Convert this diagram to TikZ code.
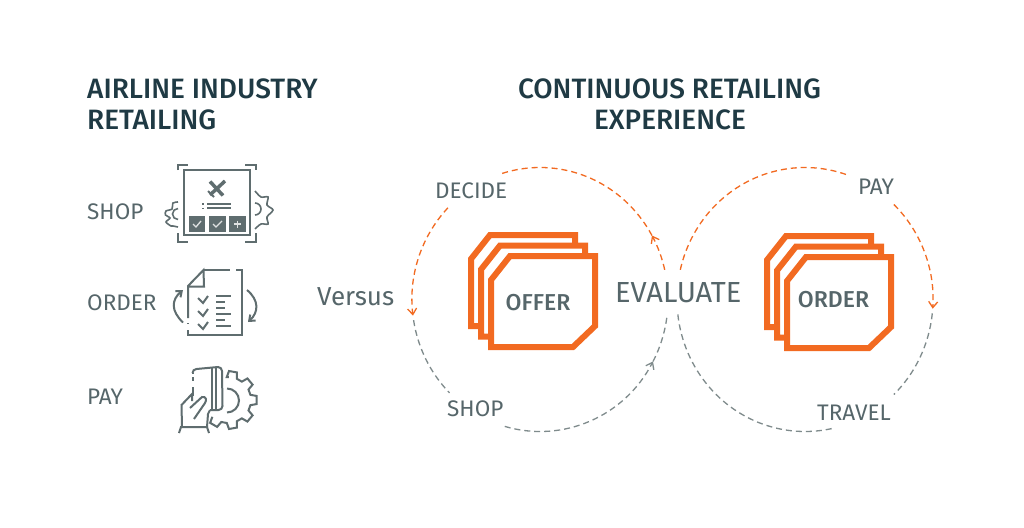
\documentclass[tikz,border=0pt]{standalone}
\usepackage{fontspec}
\setmainfont{Fira Sans}
\newfontfamily\headfont{Fira Sans Medium}
\usetikzlibrary{arrows.meta,calc}
\definecolor{ink}{HTML}{1F3A44}
\definecolor{slate}{HTML}{56666A}
\definecolor{icon}{HTML}{5F6D6F}
\definecolor{flame}{HTML}{F26A21}
\definecolor{dashgrey}{HTML}{7F8B8C}
\newcommand\ringarc[4]{\draw[#1] ($(#2)+(#3:128 and 132)$) arc[start angle=#3,end angle=#4,x radius=128,y radius=132];}
\tikzset{
  x=1pt,y=-1pt,
  heading/.style={text=ink,font=\fontsize{28}{30}\selectfont\headfont,inner sep=0pt},
  label/.style={text=slate,font=\fontsize{22.5}{24}\selectfont,inner sep=0pt},
  cardname/.style={text=slate,font=\fontsize{23}{24}\selectfont\headfont,inner sep=0pt},
  ringor/.style={flame,line width=1.3pt,dash pattern=on 6pt off 4pt},
  ringgr/.style={dashgrey,line width=1.3pt,dash pattern=on 6pt off 4pt},
  tip/.style={-{Straight Barb[length=6pt,width=9pt]}},
  ln/.style={icon,line width=2pt},
  card/.style={draw=flame,fill=white,line width=6pt,miter limit=10},
  pics/cardstack/.style={code={
    \foreach \d in {20,10,0}{
      \draw[card] ({-\d+22},{-\d*1.05+3}) -- ({-\d+107},{-\d*1.05+3}) -- ({-\d+107},{-\d*1.05+73}) -- ({-\d+85},{-\d*1.05+94}) -- ({-\d+3},{-\d*1.05+94}) -- ({-\d+3},{-\d*1.05+27}) -- cycle;
    }
  }}
}
\begin{document}
\begin{tikzpicture}
\useasboundingbox (0,0) rectangle (1024,527);
\fill[white] (0,0) rectangle (1024,527);

% headings
\node[heading,anchor=west] (h1a) at (87,89) {AIRLINE INDUSTRY};
\node[heading,anchor=west] (h1b) at (87,120) {RETAILING};
\node[heading] (h2a) at (669.5,89) {CONTINUOUS RETAILING};
\node[heading] (h2b) at (670,120) {EXPERIENCE};

% left labels
\node[label,anchor=west] (lshop) at (87,212) {SHOP};
\node[label,anchor=west] (lorder) at (87,303) {ORDER};
\node[label,anchor=west] (lpay) at (87,397) {PAY};
\node[label,anchor=west,font=\fontsize{26}{28}\selectfont] (versus) at (317,297) {Versus};

% rings
\coordinate (L) at (540,299.5);
\coordinate (R) at (805,299.5);
\ringarc{ringor,tip}{L}{-13}{-29}
\ringarc{ringor}{L}{-29}{-108}
\ringarc{ringor,tip}{L}{224}{173}
\ringarc{ringgr}{L}{171}{135}
\ringarc{ringgr,tip}{L}{106}{28}
\ringarc{ringgr}{L}{28}{7}
\ringarc{ringor}{R}{193}{290}
\ringarc{ringor,tip}{R}{314}{364}
\ringarc{ringgr}{R}{6}{46}
\ringarc{ringgr}{R}{78}{173.5}

% ring labels
\node[label,anchor=west] (decide) at (435,191) {DECIDE};
\node[label,anchor=west] (rshop) at (447,409) {SHOP};
\node[label,anchor=west] (rpay) at (858,187) {PAY};
\node[label,anchor=west] (travel) at (817,413) {TRAVEL};
\node[label,anchor=west,font=\fontsize{29}{30}\selectfont] (evaluate) at (615,293) {EVALUATE};

% card stacks
\pic at (488,253) {cardstack};
\pic at (784,254) {cardstack};
\node[cardname] (offer) at (538,303) {OFFER};
\node[cardname] (order) at (833.5,300) {ORDER};

% shop icon
\begin{scope}[ln]
\draw (184,170) rectangle (250,235);
\draw (178,170) -- (178,165) -- (188,165);
\draw (245,165) -- (256,165) -- (256,170);
\draw (178,233) -- (178,242) -- (188,242);
\draw (245,242) -- (256,242) -- (256,233);
\draw[line width=3.5pt] (210,195) -- (225,181);
\draw[line width=3.5pt] (210,181.5) -- (223,195.5);
\draw[line width=2pt] (208,191) -- (214,197);
\draw (207,203.5) -- (231,203.5);
\draw (207,208) -- (231,208);
\fill[icon] (201.5,203) rectangle (203.5,204.5);
\fill[icon] (201.5,207.5) rectangle (203.5,209);
\fill[icon] (189,216) rectangle (205,232);
\fill[icon] (209,216) rectangle (226,232);
\fill[icon] (229,216) rectangle (246,232);
\draw[white!80!icon,line width=1.3pt] (193,224) -- (196,227) -- (201,221);
\draw[white!80!icon,line width=1.3pt] (213,224) -- (216,227) -- (222,221);
\draw[white!80!icon,line width=1.3pt] (237.5,220.5) -- (237.5,227.5) (234,224) -- (241,224);
\draw[smooth,line width=1.6pt] plot coordinates {(178,202) (173,203) (172,209) (166,211) (165.5,215) (170,218) (166,222) (171,226) (173,226) (178,227)};
\draw[line width=1.6pt] (178,208.5) arc[start angle=-90,end angle=-270,radius=5.5];
\draw[smooth,line width=1.6pt] plot coordinates {(255,191) (261,197) (268,197) (267,205) (273,210) (267,217) (268,224) (261,224) (255,229)};
\draw[line width=1.6pt] (255,203) arc[start angle=-90,end angle=90,radius=6];

% order icon
\draw (203,270) -- (230,270);
\draw (236,270) -- (241.5,270) -- (241.5,335) -- (188,335) -- (188,330);
\draw (188,323) -- (188,323.7);
\draw (188,318) -- (188,286) -- (203.5,270) -- (204,286.5) -- (188,286.5);
\draw (198,298) -- (203,303) -- (208,296);
\draw (198,311) -- (203,316) -- (208,309);
\draw (198,324) -- (203,329) -- (208,322);
\draw (216,296) -- (231,296);
\draw (216,301.5) -- (225,301.5);
\draw (216,308) -- (225,308);
\draw (216,313.5) -- (231,313.5);
\draw (216,320) -- (225,320);
\draw (216,326) -- (231,326);
\draw[-{Straight Barb[length=5pt,width=8pt]}] (183,322.5) .. controls (171,311) and (171,300) .. (183,290);
\draw[-{Straight Barb[length=5pt,width=8pt]}] (247,290) .. controls (259,300) and (259,312) .. (248,322);

% pay icon
\draw (192.5,373) -- (192.5,373) arc[start angle=180,end angle=270,radius=4] -- (218,367) arc[start angle=-90,end angle=0,radius=4] -- (222.5,406) arc[start angle=0,end angle=90,radius=4] -- (210,410);
\draw (192.5,373) -- (192.5,374);
\draw (192.5,377) -- (192.5,381);
\draw (192.5,387) -- (192.5,396);
\draw (212,367) -- (212,410);
\draw (216,367) -- (216,410);
\draw (182,427) -- (181.5,405) -- (192,394) -- (192,401);
\draw (190,408) -- (202,397) .. controls (206,396) and (207,400) .. (205,403) -- (194,419);
\draw (179,433) -- (181,427) -- (207,427) -- (209,433);
\draw (207,427) -- (208,414) -- (210,410);
\draw[shift={(228,400)}] (-88:23)
  \foreach \a in {-80,-40,0,40,80,120}{ -- (\a-13:23) -- (\a-8:29) -- (\a+8:29) -- (\a+13:23) };
\draw (227,388.5) arc[start angle=-90,end angle=90,radius=12];
\end{scope}
\end{tikzpicture}
\end{document}
